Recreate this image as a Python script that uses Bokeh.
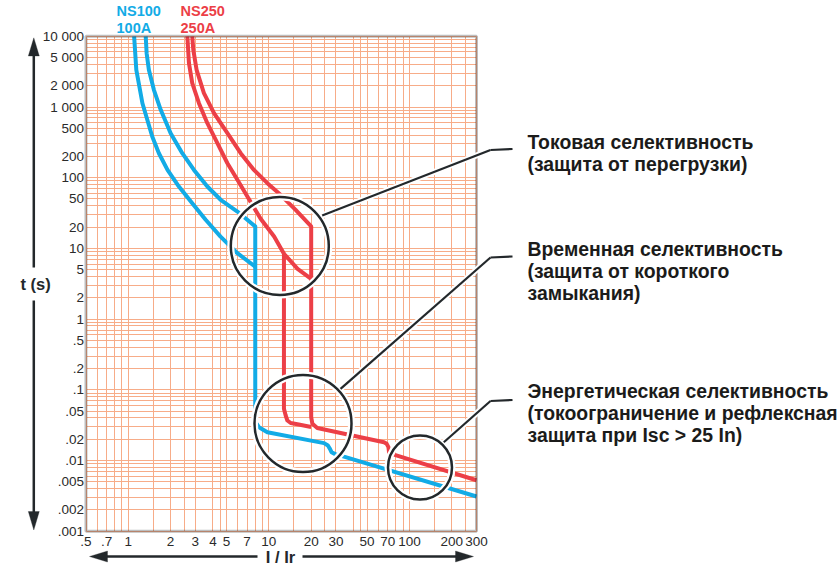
from bokeh.plotting import figure
from bokeh.models import FixedTicker, Label, Arrow, PolyAnnotation, BoxAnnotation, Grid
from bokeh.embed import file_html
from bokeh.resources import INLINE

# ---------------- data (I/Ir multiples, trip time in s) ----------------
ns100_min_I = [1.10, 1.14, 1.26, 1.48, 1.65, 1.90, 2.29, 2.85, 3.55, 4.53, 5.97, 8.0]
ns100_min_t = [10000, 3360, 1130, 383, 222, 129, 75, 43.5, 25.4, 14.7, 8.55, 5.5]

ns100_max_I = [1.33, 1.35, 1.40, 1.52, 1.70, 2.0, 2.42, 2.93, 3.65, 4.54, 5.97, 8.0,
               8.0, 8.1, 8.5, 9.76, 24.7, 26.3, 27.2, 27.9, 29.9, 32.4, 300]
ns100_max_t = [10000, 5770, 3360, 1750, 912, 426, 222, 129, 75, 48.7, 33.2, 20.5,
               0.041, 0.034, 0.0296, 0.0251, 0.0176, 0.0163, 0.0146, 0.0131, 0.0122, 0.0117, 0.0031]

ns250_min_I = [2.63, 2.70, 2.85, 3.18, 3.65, 4.30, 5.07, 5.97, 7.03, 8.74, 10.9, 12.8,
               12.8, 13.17, 13.54, 14.3, 16.3, 20.0]
ns250_min_t = [10000, 4165, 2172, 1132, 590, 308, 160, 93.3, 54.2, 26.2, 14.7, 8.4,
               0.054, 0.0433, 0.0368, 0.0339, 0.0323, 0.0297]

ns250_knee_I = [12.8, 16.0, 20.0]
ns250_knee_t = [8.4, 5.14, 3.7]

ns250_max_I = [2.85, 2.90, 3.06, 3.45, 4.07, 5.07, 6.30, 7.83, 9.76, 12.1, 15.5, 20.0,
               20.0, 20.4, 22.1, 65.9, 68.9, 70.9, 71.6, 74.5, 300]
ns250_max_t = [10000, 6440, 3360, 1567, 817, 426, 222, 129, 83.6, 57.3, 35.1, 20.5,
               0.041, 0.033, 0.0288, 0.01815, 0.01722, 0.01542, 0.0131, 0.01244, 0.00526]

x_ticks = [0.5, 0.7, 1, 2, 3, 4, 5, 7, 10, 20, 30, 50, 70, 100, 200, 300]
x_tick_labels = [".5", ".7", "1", "2", "3", "4", "5", "7", "10", "20", "30", "50", "70", "100", "200", "300"]
y_ticks = [0.001, 0.002, 0.005, 0.01, 0.02, 0.05, 0.1, 0.2, 0.5, 1, 2, 5, 10, 20, 50,
           100, 200, 500, 1000, 2000, 5000, 10000]
y_tick_labels = [".001", ".002", ".005", ".01", ".02", ".05", ".1", ".2", ".5", "1", "2", "5",
                 "10", "20", "50", "100", "200", "500", "1 000", "2 000", "5 000", "10 000"]

x_grid_steps = [1, 1.5, 2, 2.5, 3, 4, 4.5, 5, 6, 7, 8, 9]
y_grid_steps = [1, 2, 3, 4, 5, 6, 7, 8, 9]

X_MIN, X_MAX, T_MIN, T_MAX = 0.5, 300, 0.001, 10000

BLUE = "#12ABE6"
RED = "#EC3F47"
DARK = "#23282B"
GRID = "#F7AC88"
TXT = "#1B1B1A"

# ---------------- canvas geometry (pixels -> data space) ----------------
W, H = 840, 565
CL, CR, CT, CB = 85.5, 476.0, 35.8, 530.7   # chart box edges in canvas pixels


def X(px):
    return X_MIN * (X_MAX / X_MIN) ** ((px - CL) / (CR - CL))


def Y(py):
    return T_MAX * (T_MIN / T_MAX) ** ((py - CT) / (CB - CT))


p = figure(width=W, height=H, x_axis_type="log", y_axis_type="log",
           x_range=(X(0), X(W)), y_range=(Y(H), Y(0)),
           output_backend="svg", toolbar_location=None, min_border=0)
p.title.visible = False
p.outline_line_color = None
p.background_fill_color = "white"
p.border_fill_color = "white"

# grid (restricted to the chart box)
xg = [s * 10 ** k for k in range(-1, 3) for s in x_grid_steps if X_MIN <= s * 10 ** k <= X_MAX]
yg = [s * 10 ** k for k in range(-3, 5) for s in y_grid_steps if s * 10 ** k <= T_MAX]
if "cross_bounds" in Grid.properties():
    p.xgrid.ticker = FixedTicker(ticks=xg)
    p.ygrid.ticker = FixedTicker(ticks=yg)
    p.xgrid.bounds = (X_MIN, X_MAX)
    p.ygrid.bounds = (T_MIN, T_MAX)
    p.xgrid.cross_bounds = (T_MIN, T_MAX)
    p.ygrid.cross_bounds = (X_MIN, X_MAX)
    for g in (p.xgrid, p.ygrid):
        g.grid_line_color = GRID
        g.grid_line_width = 1
else:
    p.xgrid.visible = False
    p.ygrid.visible = False
    p.segment(xg, [T_MIN] * len(xg), xg, [T_MAX] * len(xg), line_color=GRID, line_width=1)
    p.segment([X_MIN] * len(yg), yg, [X_MAX] * len(yg), yg, line_color=GRID, line_width=1)

# axes placed on the chart box edges
p.yaxis.fixed_location = X_MIN
p.xaxis.fixed_location = T_MIN
for ax, ticks, labels in ((p.xaxis, x_ticks, x_tick_labels), (p.yaxis, y_ticks, y_tick_labels)):
    ax.ticker = FixedTicker(ticks=ticks)
    ax.major_label_overrides = {v: s for v, s in zip(ticks, labels)}
    ax.axis_line_color = None
    ax.major_tick_line_color = None
    ax.minor_tick_line_color = None
    ax.major_label_text_font = "Liberation Sans"
    ax.major_label_text_font_size = "13.5px"
    ax.major_label_text_color = "#2A2A2A"
p.xaxis.major_label_standoff = 0
p.yaxis.major_label_standoff = -4

# curves
lw = 4
p.line(ns100_min_I, ns100_min_t, line_color=BLUE, line_width=lw, line_join="round")
p.line(ns100_max_I, ns100_max_t, line_color=BLUE, line_width=lw, line_join="round")
p.line(ns250_min_I, ns250_min_t, line_color=RED, line_width=lw, line_join="round")
p.line(ns250_knee_I, ns250_knee_t, line_color=RED, line_width=lw, line_join="round")
p.line(ns250_max_I, ns250_max_t, line_color=RED, line_width=lw, line_join="round")

# chart frame
p.add_layout(BoxAnnotation(left=X_MIN, right=X_MAX, bottom=T_MIN, top=T_MAX,
                           fill_color=None, fill_alpha=0, line_color=DARK, line_width=3))

# highlight circles
cx = [X(279.3), X(302.5), X(419.5)]
cy = [Y(245.5), Y(423), Y(467)]
cs = [98, 97, 64]
p.scatter(cx, cy, size=cs, marker="circle", fill_color=None, line_color="white", line_width=7)
p.scatter(cx, cy, size=cs, marker="circle", fill_color=None, line_color=DARK, line_width=2.5)

# leader lines
leaders = [
    [(321.7, 215), (490, 149.5), (512, 148.5)],
    [(340, 388.3), (490, 257), (512, 256)],
    [(443.3, 441.7), (490, 400.5), (512, 399.5)],
]
for pts in leaders:
    for col, w in (("white", 6), (DARK, 2.2)):
        for (x0, y0), (x1, y1) in zip(pts[:-1], pts[1:]):
            p.add_layout(Arrow(end=None, x_start=X(x0), y_start=Y(y0), x_end=X(x1), y_end=Y(y1),
                               line_color=col, line_width=w))

# annotation texts (vertical centres of first line)
blocks = [
    (["Токовая селективность", "(защита от перегрузки)"], 141),
    (["Временная селективность", "(защита от короткого", "замыкания)"], 248),
    (["Энергетическая селективность", "(токоограничение и рефлексная", "защита при Isc > 25 In)"], 390),
]
for lines, mid in blocks:
    for i, t in enumerate(lines):
        p.add_layout(Label(x=X(527), y=Y(mid + 22 * i), text=t, text_font="Liberation Sans",
                           text_font_style="bold", text_font_size="19.4px", text_color=TXT,
                           text_align="left", text_baseline="middle"))

# breaker names
for name, rating, px, col in (("NS100", "100A", 116, BLUE), ("NS250", "250A", 180, RED)):
    p.add_layout(Label(x=X(px), y=Y(10), text=name, text_font="Liberation Sans", text_font_style="bold",
                       text_font_size="14.5px", text_color=col, text_baseline="middle"))
    p.add_layout(Label(x=X(px), y=Y(27), text=rating, text_font="Liberation Sans", text_font_style="bold",
                       text_font_size="14.5px", text_color=col, text_baseline="middle"))

# axis titles
p.add_layout(Label(x=X(35), y=Y(283), text="t (s)", text_font="Liberation Sans", text_font_style="bold",
                   text_font_size="16.5px", text_color=DARK, text_align="center", text_baseline="middle"))
ay = 556
p.add_layout(Label(x=X(280), y=Y(ay), text="I / Ir", text_font="Liberation Sans", text_font_style="bold",
                   text_font_size="16.5px", text_color=DARK, text_align="center", text_baseline="middle"))

# axis arrows (lines + triangular heads)
ax_x = 33.3
for (a, b) in ((267, 50), (300, 515)):
    p.add_layout(Arrow(end=None, x_start=X(ax_x), y_start=Y(a), x_end=X(ax_x), y_end=Y(b),
                       line_color=DARK, line_width=2.5))
p.add_layout(PolyAnnotation(xs=[X(ax_x), X(ax_x - 5.5), X(ax_x + 5.5)], ys=[Y(37.3), Y(55.5), Y(55.5)],
                            fill_color=DARK, fill_alpha=1, line_color=DARK, line_width=1))
p.add_layout(PolyAnnotation(xs=[X(ax_x), X(ax_x - 5.5), X(ax_x + 5.5)], ys=[Y(529.5), Y(511), Y(511)],
                            fill_color=DARK, fill_alpha=1, line_color=DARK, line_width=1))
for (a, b) in ((257, 100), (302, 460)):
    p.add_layout(Arrow(end=None, x_start=X(a), y_start=Y(ay), x_end=X(b), y_end=Y(ay),
                       line_color=DARK, line_width=2.5))
p.add_layout(PolyAnnotation(xs=[X(89), X(107), X(107)], ys=[Y(ay), Y(ay - 5.5), Y(ay + 5.5)],
                            fill_color=DARK, fill_alpha=1, line_color=DARK, line_width=1))
p.add_layout(PolyAnnotation(xs=[X(473), X(455), X(455)], ys=[Y(ay), Y(ay - 5.5), Y(ay + 5.5)],
                            fill_color=DARK, fill_alpha=1, line_color=DARK, line_width=1))

open("out.html", "w").write(file_html(p, INLINE))
